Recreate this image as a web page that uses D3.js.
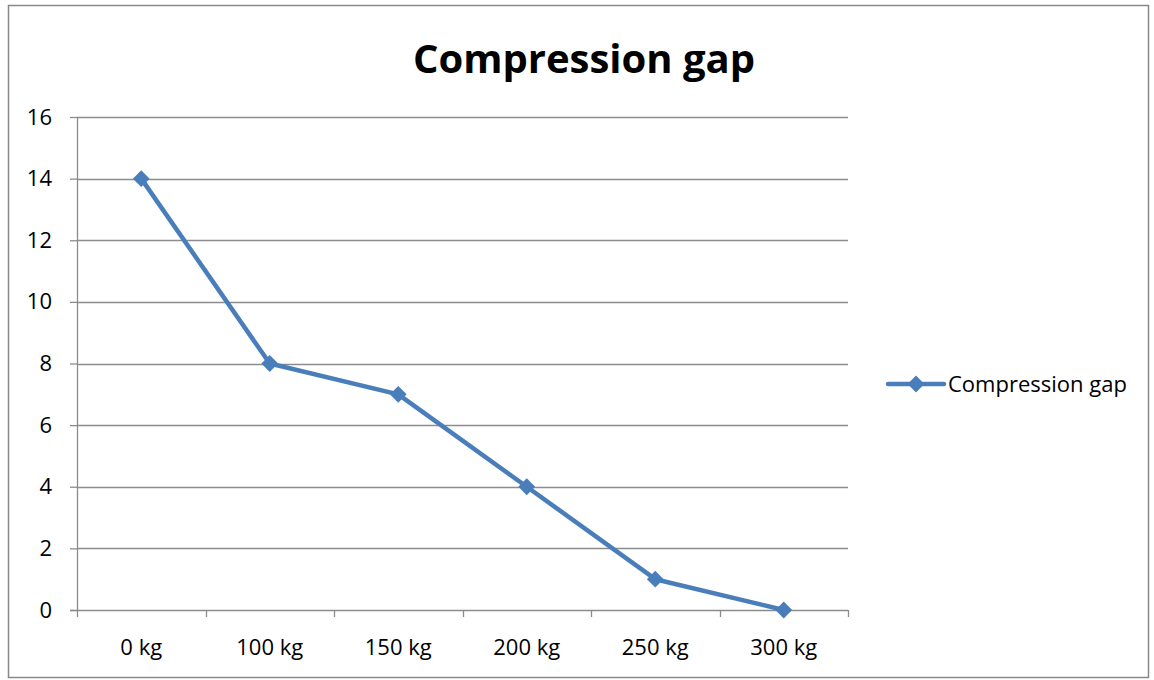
<!DOCTYPE html>
<meta charset="utf-8">
<script src="https://d3js.org/d3.v7.min.js"></script>
<style>
  body { margin: 0; background: #fff; }
  text { font-family: "Open Sans", "Liberation Sans", Arial, sans-serif; fill: #000; }
</style>
<div id="chart"></div>
<script>
  // data
  var categories = ["0 kg", "100 kg", "150 kg", "200 kg", "250 kg", "300 kg"];
  var gapValues = [14, 8, 7, 4, 1, 0];
  var yTicks = [0, 2, 4, 6, 8, 10, 12, 14, 16];
  var seriesName = "Compression gap";
  var titleText = "Compression gap";

  var W = 1154, H = 680;
  var margin = {top: 117, right: 306, bottom: 70, left: 77},
      width = 848 - margin.left,
      height = 610 - margin.top;

  var root = d3.select("#chart").append("svg")
      .attr("width", W)
      .attr("height", H);

  // outer chart border
  root.append("rect")
    .attr("x", 8.5).attr("y", 5.5)
    .attr("width", 1140).attr("height", 672)
    .attr("fill", "#fff")
    .attr("stroke", "#888").attr("stroke-width", 1.5);

  root.append("text")
    .attr("x", 584).attr("y", 73)
    .attr("text-anchor", "middle")
    .style("font-size", "40px")
    .style("font-weight", "bold")
    .text(titleText);

  var svg = root.append("g")
    .attr("transform", "translate(" + margin.left + "," + margin.top + ")");

  var x = d3.scaleBand().domain(categories).range([0, width]);
  var y = d3.scaleLinear().domain([0, 16]).range([height, 0]);

  // gridlines
  svg.append("g")
    .selectAll("line")
    .data(yTicks.filter(function(d) { return d > 0; }))
    .enter().append("line")
      .attr("x1", 0).attr("x2", width)
      .attr("y1", function(d) { return Math.round(y(d)) + 0.5; })
      .attr("y2", function(d) { return Math.round(y(d)) + 0.5; })
      .attr("stroke", "#8c8c8c").attr("stroke-width", 1.3);

  // y axis
  var yAxis = svg.append("g")
    .call(d3.axisLeft(y).tickValues(yTicks).tickSize(7).tickPadding(18));
  yAxis.attr("font-family", null).attr("font-size", null);
  yAxis.selectAll("path, line").attr("stroke", "#8c8c8c").attr("stroke-width", 1.3);
  yAxis.select(".domain").attr("d", "M0.5," + height + "V0");
  yAxis.selectAll("text").style("font-size", "22px").attr("fill", "#000");

  // x axis with ticks at band edges
  var xg = svg.append("g").attr("transform", "translate(0," + height + ")");
  xg.append("line")
    .attr("x1", -7).attr("x2", width)
    .attr("y1", 0.5).attr("y2", 0.5)
    .attr("stroke", "#8c8c8c").attr("stroke-width", 1.3);
  var edges = categories.map(function(c) { return x(c); }).concat([width]);
  xg.selectAll(".xt").data(edges).enter().append("line")
    .attr("x1", function(d) { return Math.round(d) + 0.5; })
    .attr("x2", function(d) { return Math.round(d) + 0.5; })
    .attr("y1", 0).attr("y2", 7)
    .attr("stroke", "#8c8c8c").attr("stroke-width", 1.3);
  xg.selectAll(".xl").data(categories).enter().append("text")
    .attr("x", function(d) { return x(d) + x.bandwidth() / 2; })
    .attr("y", 45)
    .attr("text-anchor", "middle")
    .style("font-size", "22px")
    .text(function(d) { return d; });

  var pts = categories.map(function(c, i) { return {c: c, v: gapValues[i]}; });
  var line = d3.line()
    .x(function(d) { return x(d.c) + x.bandwidth() / 2; })
    .y(function(d) { return y(d.v); });

  var blue = "#4a7ebb";
  svg.append("path")
    .datum(pts)
    .attr("d", line)
    .attr("fill", "none")
    .attr("stroke", blue)
    .attr("stroke-width", 4.5)
    .attr("stroke-linejoin", "round");

  var diamond = d3.symbol().type(d3.symbolDiamond2).size(180);
  svg.selectAll(".pt").data(pts).enter().append("path")
    .attr("d", diamond)
    .attr("transform", function(d) {
      return "translate(" + (x(d.c) + x.bandwidth() / 2) + "," + y(d.v) + ")";
    })
    .attr("fill", blue);

  // legend
  var lg = root.append("g").attr("transform", "translate(888,384)");
  lg.append("line").attr("x1", 0).attr("x2", 56).attr("y1", 0).attr("y2", 0)
    .attr("stroke", blue).attr("stroke-width", 4.5).attr("stroke-linecap", "round");
  lg.append("path").attr("d", diamond).attr("transform", "translate(28,0)").attr("fill", blue);
  lg.append("text").attr("x", 60).attr("y", 8).style("font-size", "22px").text(seriesName);
</script>
